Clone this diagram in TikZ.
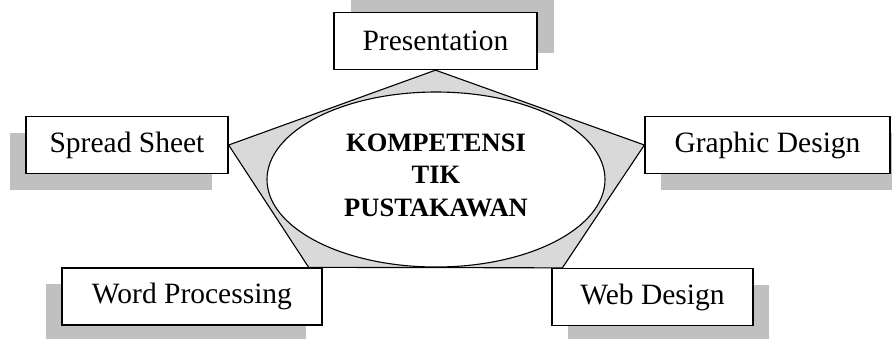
\documentclass[tikz,border=0pt]{standalone}
\usepackage{fontspec}
\setmainfont{Liberation Serif}
\usepackage{tikz}
\usetikzlibrary{shapes,calc,shadows}
\definecolor{shadeC}{RGB}{192,192,192}
\definecolor{fillC}{RGB}{217,217,217}
\tikzstyle{skill}=[rectangle, draw, fill=white, line width=1.3pt, minimum height=57pt, inner sep=0pt, font=\fontsize{29.5}{35}\selectfont]
\tikzstyle{shadeUR}=[drop shadow={shadow xshift=17pt, shadow yshift=17pt, fill=shadeC, opacity=1}]
\tikzstyle{shadeDR}=[drop shadow={shadow xshift=16pt, shadow yshift=-16pt, fill=shadeC, opacity=1}]
\tikzstyle{shadeDL}=[drop shadow={shadow xshift=-16pt, shadow yshift=-16pt, fill=shadeC, opacity=1}]
\tikzstyle{core}=[ellipse, draw, fill=white, line width=1.1pt, minimum width=338pt, minimum height=175pt, inner sep=0pt]
\tikzstyle{coreText}=[align=center, font=\bfseries\fontsize{26.5}{32.5}\selectfont]
\tikzstyle{penta}=[draw, fill=fillC, line width=1.1pt, line join=miter]

\begin{document}
\begin{tikzpicture}[x=1pt, y=-1pt]
      \clip (0, 0) rectangle (892, 338);
      \node(pres) [skill, shadeUR, minimum width=203pt] at (435.5, 41){Presentation};
      \node(spread) [skill, shadeDL, minimum width=202pt] at (127, 145){Spread Sheet};
      \node(graph) [skill, shadeDR, minimum width=245pt] at (767.5, 145){Graphic Design};
      \node(word) [skill, shadeDL, minimum width=260pt] at (192, 296.5){Word Processing};
      \node(web) [skill, shadeDR, minimum width=201pt] at (652.5, 297){Web Design};
      \draw[penta] (pres.south) -- (graph.west) -- ($(web.north west)+(11, 0)$)
        -- ($(word.north east)+(-14, 0)$) -- (spread.east) -- cycle;
      \node(ell) [core] at (436, 179.5){};
      \node(title) [coreText] at (436, 175){KOMPETENSI\\TIK\\PUSTAKAWAN};
\end{tikzpicture}
\end{document}
